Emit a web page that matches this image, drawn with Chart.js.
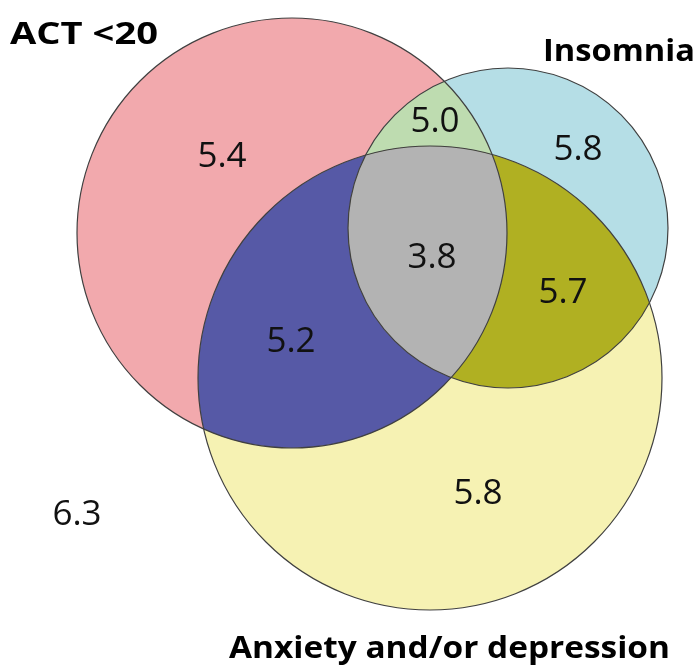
<!DOCTYPE html>
<html>
<head>
<meta charset="utf-8">
<script src="https://cdn.jsdelivr.net/npm/chart.js@4.4.1/dist/chart.umd.min.js"></script>
<style>
  html, body { margin: 0; padding: 0; background: #fff; }
  #wrap { width: 700px; height: 665px; }
</style>
</head>
<body>
<div id="wrap"><canvas id="venn" width="700" height="665"></canvas></div>
<script>
// sets and region values
var setNames = ['ACT <20', 'Insomnia', 'Anxiety and/or depression'];
var regionNames = ['ACT only', 'ACT + Insomnia', 'Insomnia only', 'All three', 'Insomnia + Anxiety', 'ACT + Anxiety', 'Anxiety only', 'None'];
var regionValues = [5.4, 5.0, 5.8, 3.8, 5.7, 5.2, 5.8, 6.3];

// layout, in plot units (x 0..700, y 0..665 from the top)
var circleX = [292, 508, 430];
var circleY = [233, 228, 378];
var circleR = [215, 160, 232];
var labelX = [222, 435, 578, 432, 563, 291, 478, 77];
var labelY = [155, 120, 148, 256, 291, 340, 492, 513];
var titleX = [10, 543, 229];
var titleY = [44, 61, 658];
var titleW = [148, 152, 441];

var setColors = ['#F2A9AD', '#B5DEE6', '#F6F2B3'];
var pairColors = { '0-1': '#BEDCB0', '0-2': '#5659A6', '1-2': '#B0B022' };
var allColor = '#B3B3B3';

function circlePath(ctx, chart, i) {
  var xs = chart.scales.x, ys = chart.scales.y;
  var px = xs.getPixelForValue(circleX[i]);
  var py = ys.getPixelForValue(circleY[i]);
  var pr = xs.getPixelForValue(circleX[i] + circleR[i]) - px;
  ctx.beginPath();
  ctx.arc(px, py, pr, 0, Math.PI * 2);
}

var vennPlugin = {
  id: 'venn',
  beforeDatasetsDraw: function (chart) {
    var ctx = chart.ctx;
    ctx.save();
    // plain circles
    for (var i = 0; i < 3; i++) {
      circlePath(ctx, chart, i);
      ctx.fillStyle = setColors[i];
      ctx.fill();
    }
    // pair overlaps
    Object.keys(pairColors).forEach(function (k) {
      var a = +k.split('-')[0], b = +k.split('-')[1];
      ctx.save();
      circlePath(ctx, chart, a);
      ctx.clip();
      circlePath(ctx, chart, b);
      ctx.fillStyle = pairColors[k];
      ctx.fill();
      ctx.restore();
    });
    // triple overlap
    ctx.save();
    circlePath(ctx, chart, 0);
    ctx.clip();
    circlePath(ctx, chart, 1);
    ctx.clip();
    circlePath(ctx, chart, 2);
    ctx.fillStyle = allColor;
    ctx.fill();
    ctx.restore();
    // outlines
    ctx.strokeStyle = '#404040';
    ctx.lineWidth = 1.2;
    for (var j = 0; j < 3; j++) {
      circlePath(ctx, chart, j);
      ctx.stroke();
    }
    ctx.restore();
  },
  afterDatasetsDraw: function (chart) {
    var ctx = chart.ctx;
    var meta = chart.getDatasetMeta(0);
    var size = 35;
    ctx.save();
    ctx.fillStyle = '#111';
    ctx.font = size + 'px "Open Sans"';
    ctx.textAlign = 'center';
    ctx.textBaseline = 'alphabetic';
    meta.data.forEach(function (pt, i) {
      ctx.fillText(regionValues[i].toFixed(1), pt.x, pt.y + size * 0.357);
    });
    // set titles, stretched to the width they take in the picture
    ctx.font = 'bold 31px "Open Sans"';
    ctx.textAlign = 'left';
    ctx.fillStyle = '#000';
    setNames.forEach(function (name, i) {
      var w = ctx.measureText(name).width;
      var x = chart.scales.x.getPixelForValue(titleX[i]);
      var y = chart.scales.y.getPixelForValue(titleY[i]);
      ctx.save();
      ctx.translate(x, y);
      ctx.scale(titleW[i] / w, 1);
      ctx.fillText(name, 0, 0);
      ctx.restore();
    });
    ctx.restore();
  }
};

new Chart(document.getElementById('venn'), {
  type: 'scatter',
  data: {
    datasets: [{
      label: 'Regions',
      data: regionValues.map(function (v, i) { return { x: labelX[i], y: labelY[i] }; }),
      pointRadius: 0,
      pointHoverRadius: 0
    }]
  },
  options: {
    responsive: false,
    animation: false,
    layout: { padding: 0 },
    scales: {
      x: { type: 'linear', min: 0, max: 700, display: false },
      y: { type: 'linear', min: 0, max: 665, reverse: true, display: false }
    },
    plugins: {
      legend: { display: false },
      tooltip: { enabled: false }
    }
  },
  plugins: [vennPlugin]
});
</script>
</body>
</html>
